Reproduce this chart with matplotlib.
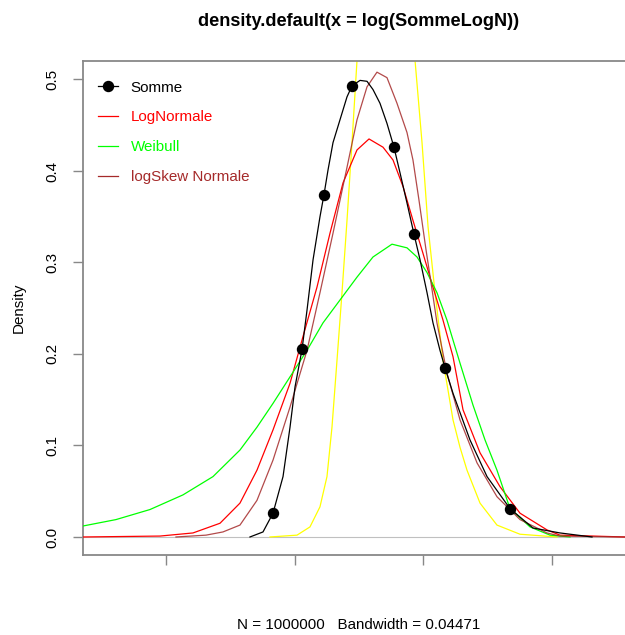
import matplotlib
matplotlib.use("Agg")
import matplotlib.pyplot as plt
from matplotlib.lines import Line2D

plt.rcParams['font.family'] = ['Liberation Sans', 'DejaVu Sans']

# ---- data (x in units of log(SommeLogN), y = density) ----
somme_x = [3.301, 3.504, 3.660, 3.816, 3.925, 4.003, 4.112, 4.190, 4.284, 4.392, 4.454,
           4.517, 4.595, 4.704, 4.813, 4.891, 5.016, 5.125, 5.218, 5.327, 5.436, 5.545,
           5.639, 5.748, 5.857, 5.951, 6.060, 6.153, 6.262, 6.340, 6.465, 6.574, 6.730,
           6.995, 7.353, 7.711, 8.132, 8.631]
somme_y = [0.0, 0.0055, 0.026, 0.066, 0.120, 0.164, 0.205, 0.248, 0.303, 0.350, 0.374,
           0.401, 0.431, 0.456, 0.481, 0.493, 0.499, 0.498, 0.489, 0.474, 0.452, 0.426,
           0.398, 0.365, 0.331, 0.303, 0.267, 0.234, 0.204, 0.185, 0.157, 0.136, 0.106,
           0.066, 0.031, 0.0098, 0.0044, 0.0]
somme_pts_x = [3.665, 4.112, 4.454, 4.891, 5.545, 5.850, 6.340, 7.353]
somme_pts_y = [0.026, 0.205, 0.374, 0.493, 0.426, 0.331, 0.185, 0.031]

lognorm_x = [0.699, 1.899, 2.413, 2.834, 3.145, 3.410, 3.660, 3.925, 4.127, 4.345, 4.548,
             4.751, 4.969, 5.156, 5.374, 5.530, 5.686, 5.841, 5.997, 6.153, 6.309, 6.465,
             6.621, 6.886, 7.197, 7.509, 7.930, 8.132, 9.145, 9.4]
lognorm_y = [0.0, 0.001, 0.0044, 0.015, 0.037, 0.073, 0.117, 0.168, 0.219, 0.273, 0.332,
             0.387, 0.423, 0.435, 0.426, 0.412, 0.383, 0.346, 0.310, 0.273, 0.237, 0.197,
             0.139, 0.092, 0.055, 0.026, 0.0077, 0.002, 0.0, 0.0]

weibull_x = [0.5, 0.699, 1.213, 1.743, 2.257, 2.725, 3.145, 3.410, 3.660, 3.925, 4.190,
             4.439, 4.704, 4.969, 5.218, 5.514, 5.748, 5.904, 6.060, 6.215, 6.371, 6.574,
             6.777, 6.964, 7.150, 7.353, 7.665, 7.977, 8.288]
weibull_y = [0.010, 0.012, 0.019, 0.030, 0.046, 0.066, 0.095, 0.120, 0.146, 0.175, 0.204,
             0.234, 0.259, 0.284, 0.306, 0.320, 0.316, 0.306, 0.289, 0.267, 0.237, 0.190,
             0.144, 0.106, 0.073, 0.031, 0.011, 0.002, 0.0]

yellow_x = [3.613, 4.034, 4.236, 4.392, 4.501, 4.579, 4.657, 4.735, 4.813, 4.891, 4.969,
            5.10, 5.40, 5.70, 5.873, 5.982, 6.076, 6.185, 6.309, 6.465, 6.574, 6.683,
            6.886, 7.150, 7.509, 8.085]
yellow_y = [0.0, 0.002, 0.011, 0.033, 0.066, 0.120, 0.193, 0.267, 0.346, 0.431, 0.521,
            0.66, 0.76, 0.66, 0.521, 0.431, 0.339, 0.267, 0.193, 0.128, 0.098, 0.073,
            0.037, 0.013, 0.003, 0.0]

skew_x = [2.148, 2.616, 2.880, 3.145, 3.410, 3.660, 3.925, 4.190, 4.392, 4.595, 4.813,
          4.969, 5.125, 5.280, 5.436, 5.592, 5.748, 5.841, 5.935, 6.044, 6.122, 6.215,
          6.371, 6.574, 6.839, 7.150, 7.509, 7.930, 8.132, 9.145, 9.4]
skew_y = [0.0, 0.002, 0.0055, 0.013, 0.040, 0.084, 0.142, 0.204, 0.267, 0.332, 0.404,
          0.456, 0.492, 0.508, 0.502, 0.474, 0.442, 0.412, 0.368, 0.314, 0.278, 0.234,
          0.179, 0.128, 0.081, 0.044, 0.019, 0.0044, 0.001, 0.0, 0.0]

legend_labels = ["Somme", "LogNormale", "Weibull", "logSkew Normale"]
legend_colors = ["black", "#FF0000", "#00FF00", "#A52A2A"]
x_ticks = [2, 4, 6, 8]
y_ticks = [0.0, 0.1, 0.2, 0.3, 0.4, 0.5]
y_ticklabels = ["0.0", "0.1", "0.2", "0.3", "0.4", "0.5"]

# ---- figure ----
W, H = 625, 635
fig = plt.figure(figsize=(W / 100, H / 100), dpi=100)
ax = fig.add_axes([83 / W, (H - 555) / H, 552 / W, (555 - 61) / H])
ax.set_xlim(0.699, 9.301)
ax.set_ylim(-0.0197, 0.5202)

lw = 0.9
ax.axhline(0, color="#c0c0c0", lw=0.8, zorder=1)
ax.plot(somme_x, somme_y, color="black", lw=lw, zorder=5)
ax.plot(somme_pts_x, somme_pts_y, 'o', color="black", ms=7.2, zorder=6)
ax.plot(lognorm_x, lognorm_y, color="#FF0000", lw=lw, zorder=3)
ax.plot(weibull_x, weibull_y, color="#00FF00", lw=lw, zorder=3)
ax.plot(yellow_x, yellow_y, color="#FFFF00", lw=lw, zorder=2)
ax.plot(skew_x, skew_y, color="#A52A2A", lw=lw, zorder=4, alpha=0.85)

fs = 10.9
ax.set_xticks(x_ticks)
ax.set_xticklabels([""] * len(x_ticks))
ax.set_yticks(y_ticks)
ax.set_yticklabels(y_ticklabels, rotation=90, va="center", fontsize=fs)
ax.tick_params(axis="both", direction="out", length=7, width=1.0, color="#888888")
ax.tick_params(axis="y", pad=10)
for s in ax.spines.values():
    s.set_color("#888888")
    s.set_linewidth(1.3)

ax.set_ylabel("Density", fontsize=fs, labelpad=14)
fig.text(359 / W, 1 - 625 / H, "N = 1000000   Bandwidth = 0.04471", ha="center", va="center",
         fontsize=fs)
fig.text(358.5 / W, 1 - 22 / H, "density.default(x = log(SommeLogN))", ha="center", va="center",
         fontsize=13.1, fontweight="bold")

handles = [Line2D([], [], color="black", lw=lw, marker='o', ms=7.2)]
handles += [Line2D([], [], color=c, lw=lw) for c in legend_colors[1:]]
leg = ax.legend(handles, legend_labels, loc="upper left", frameon=False, fontsize=fs,
                handlelength=1.3, handletextpad=0.85, labelspacing=1.05,
                bbox_to_anchor=(0.0, 0.991), borderaxespad=0.6)
for t, c in zip(leg.get_texts(), legend_colors):
    t.set_color(c)

fig.savefig("out.png", dpi=100)
